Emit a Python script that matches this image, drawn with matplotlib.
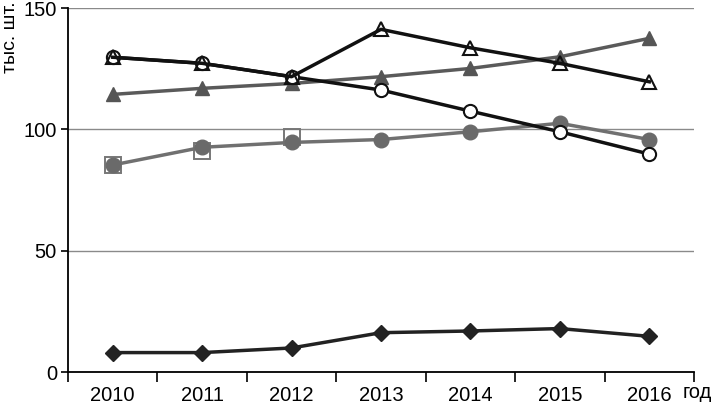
import matplotlib
matplotlib.use("Agg")
import matplotlib.pyplot as plt
import numpy as np

plt.rcParams['font.family'] = ['Liberation Sans', 'DejaVu Sans']

years = ["2010", "2011", "2012", "2013", "2014", "2015", "2016"]
open_circles = [129.7, 127.2, 121.7, 116.2, 107.5, 99.0, 89.8]
open_triangles = [129.7, 127.2, 121.7, 141.2, 133.6, 127.2, 119.6]
gray_triangles = [114.4, 116.9, 118.9, 121.7, 125.1, 129.9, 137.5]
gray_circles = [85.3, 92.6, 94.6, 95.8, 99.0, 102.5, 95.8]
open_squares = [85.3, 91.2, 96.7]
diamonds = [8.0, 8.0, 9.9, 16.2, 16.9, 17.9, 14.7]
yticks = [0, 50, 100, 150]

fig = plt.figure(figsize=(7.12, 4.04), dpi=100)
ax = fig.add_axes([68/712, 1-372/404, (694-68)/712, (372-8)/404])

x = np.arange(len(years))
xs = x[:len(open_squares)]

ax.plot(xs, open_squares, ls='none', marker='s', ms=11, mfc='none', mec='#777777', mew=1.4, zorder=3)
ax.plot(x, gray_circles, color='#707070', lw=2.5, marker='o', ms=10.5, mfc='#6a6a6a', mec='#6a6a6a', zorder=4)
ax.plot(x, gray_triangles, color='#5a5a5a', lw=2.5, marker='^', ms=10.5, mfc='#555555', mec='#555555', zorder=4)
ax.plot(x, open_circles, color='#111111', lw=2.5, marker='o', ms=9.5, mfc='white', mec='#111111', mew=1.5, zorder=5)
ax.plot(x, open_triangles, color='#111111', lw=2.5, marker='^', ms=10.5, mfc='none', mec='#111111', mew=1.5, zorder=6)
ax.plot(x, diamonds, color='#222222', lw=2.5, marker='D', ms=8.5, mfc='#222222', mec='#222222', zorder=5)

ax.set_xlim(-0.5, len(years) - 0.5)
ax.set_ylim(0, 150)
ax.set_yticks(yticks)
ax.set_yticklabels([str(v) for v in yticks])
ax.yaxis.grid(True, color='#8a8a8a', lw=1.0)
ax.set_axisbelow(True)

ax.set_xticks(np.arange(-0.5, len(years), 1.0))
ax.set_xticklabels([])
ax.set_xticks(x, minor=True)
ax.set_xticklabels(years, minor=True)
ax.tick_params(axis='x', which='major', direction='out', length=7, width=1.2, color='black')
ax.tick_params(axis='x', which='minor', length=0, pad=10, labelsize=14.5)
ax.tick_params(axis='y', direction='out', length=5, width=1.2, labelsize=14.5, pad=3)

for s in ['top', 'right']:
    ax.spines[s].set_visible(False)
for s in ['left', 'bottom']:
    ax.spines[s].set_linewidth(1.3)
    ax.spines[s].set_color('black')

fig.text(683/712, 1-398/404, "год", fontsize=14.5, ha='left', va='baseline')
fig.text(11/712, 1-1/404, "тыс. шт.", fontsize=14, rotation=90, ha='center', va='top')

fig.savefig("out.png", dpi=100)
